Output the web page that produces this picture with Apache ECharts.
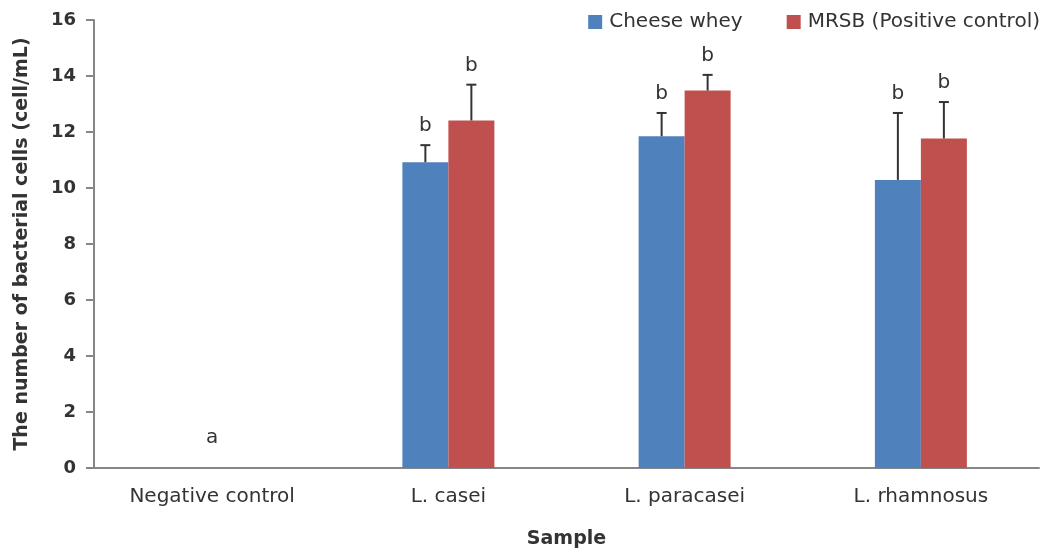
<!DOCTYPE html>
<html>
<head>
<meta charset="utf-8">
<script src="https://cdn.jsdelivr.net/npm/echarts@6/dist/echarts.min.js"></script>
<style>
html,body{margin:0;padding:0;background:#fff;}
#chart{width:1042px;height:554px;}
</style>
</head>
<body>
<div id="chart"></div>
<script>
var categories = ['Negative control', 'L. casei', 'L. paracasei', 'L. rhamnosus'];
var seriesNames = ['Cheese whey', 'MRSB (Positive control)'];
var wheyMeans = [0, 10.92, 11.85, 10.29];
var wheyErr = [0, 0.61, 0.83, 2.39];
var wheyLetters = ['', 'b', 'b', 'b'];
var mrsbMeans = [0, 12.41, 13.48, 11.77];
var mrsbErr = [0, 1.28, 0.56, 1.30];
var mrsbLetters = ['', 'b', 'b', 'b'];
var groupLetters = ['a', '', '', ''];
var yTicks = [0, 2, 4, 6, 8, 10, 12, 14, 16];

var BLUE = '#4F81BD', RED = '#C0504D';
var TEXT = '#333333';
var FONT = 'DejaVu Sans';
var BAR_W = 46;

function errData(means, errs, side) {
  return means.map(function (m, i) { return [i, m, errs[i], side]; });
}

function renderErr(params, api) {
  var idx = api.value(0);
  var mean = api.value(1);
  var err = api.value(2);
  var side = api.value(3);
  var base = api.coord([idx, mean]);
  var top = api.coord([idx, mean + err]);
  var x = base[0] + side * BAR_W / 2;
  var children = [];
  var item = params.dataIndex;
  var lt = params.seriesIndex === 2 ? wheyLetters[item] : mrsbLetters[item];
  if (err > 0) {
    children.push({ type: 'line', shape: { x1: x, y1: base[1], x2: x, y2: top[1] },
      style: { stroke: '#333333', lineWidth: 2 } });
    children.push({ type: 'line', shape: { x1: x - 5, y1: top[1], x2: x + 5, y2: top[1] },
      style: { stroke: '#333333', lineWidth: 2 } });
  }
  if (lt) {
    children.push({ type: 'text', x: x, y: top[1] - 19,
      style: { text: lt, fill: TEXT, font: '20px "' + FONT + '"', textAlign: 'center', textVerticalAlign: 'middle' } });
  }
  return { type: 'group', children: children };
}

function renderGroupLetter(params, api) {
  var idx = api.value(0);
  var lt = groupLetters[idx];
  if (!lt) return null;
  var p = api.coord([idx, 0]);
  return { type: 'text', x: p[0], y: p[1] - 30,
    style: { text: lt, fill: TEXT, font: '20px "' + FONT + '"', textAlign: 'center', textVerticalAlign: 'middle' } };
}

var chart = echarts.init(document.getElementById('chart'));
chart.setOption({
  animation: false,
  backgroundColor: '#fff',
  textStyle: { fontFamily: FONT },
  legend: {
    right: 0, top: 7, width: 480, padding: [5, 2, 5, 5],
    itemWidth: 14, itemHeight: 14, itemGap: 44,
    icon: 'rect',
    textStyle: { fontSize: 20, color: TEXT, fontFamily: FONT, padding: [0, 0, 0, 2] },
    data: seriesNames
  },
  grid: { left: 94, right: 3, top: 20, bottom: 84, containLabel: false },
  xAxis: {
    type: 'category',
    data: categories,
    name: 'Sample',
    nameLocation: 'middle',
    nameGap: 62,
    nameTextStyle: { fontSize: 19, fontWeight: 'bold', color: TEXT, fontFamily: FONT },
    axisLine: { lineStyle: { color: '#868686', width: 2 } },
    axisTick: { length: 10, lineStyle: { color: '#868686', width: 2 } },
    axisLabel: { fontSize: 20, color: TEXT, margin: 19, fontFamily: FONT }
  },
  yAxis: {
    type: 'value',
    min: yTicks[0], max: yTicks[yTicks.length - 1], interval: yTicks[1] - yTicks[0],
    name: 'The number of bacterial cells (cell/mL)',
    nameLocation: 'middle',
    nameGap: 62,
    nameTextStyle: { fontSize: 19, fontWeight: 'bold', color: TEXT, fontFamily: FONT },
    axisLine: { show: true, lineStyle: { color: '#868686', width: 2 } },
    axisTick: { show: true, length: 8, lineStyle: { color: '#868686', width: 2 } },
    splitLine: { show: false },
    axisLabel: { fontSize: 18, fontWeight: 'bold', color: TEXT, margin: 18, fontFamily: FONT }
  },
  series: [
    { name: seriesNames[0], type: 'bar', data: wheyMeans, barWidth: BAR_W, barGap: '0%',
      itemStyle: { color: BLUE } },
    { name: seriesNames[1], type: 'bar', data: mrsbMeans, barWidth: BAR_W, barGap: '0%',
      itemStyle: { color: RED } },
    { type: 'custom', renderItem: renderErr, data: errData(wheyMeans, wheyErr, -1), z: 5,
      encode: { x: 0, y: 1 } },
    { type: 'custom', renderItem: renderErr, data: errData(mrsbMeans, mrsbErr, 1), z: 5,
      encode: { x: 0, y: 1 } },
    { type: 'custom', renderItem: renderGroupLetter, data: categories.map(function (c, i) { return [i, 0]; }), z: 5,
      encode: { x: 0, y: 1 } }
  ]
});
</script>
</body>
</html>
